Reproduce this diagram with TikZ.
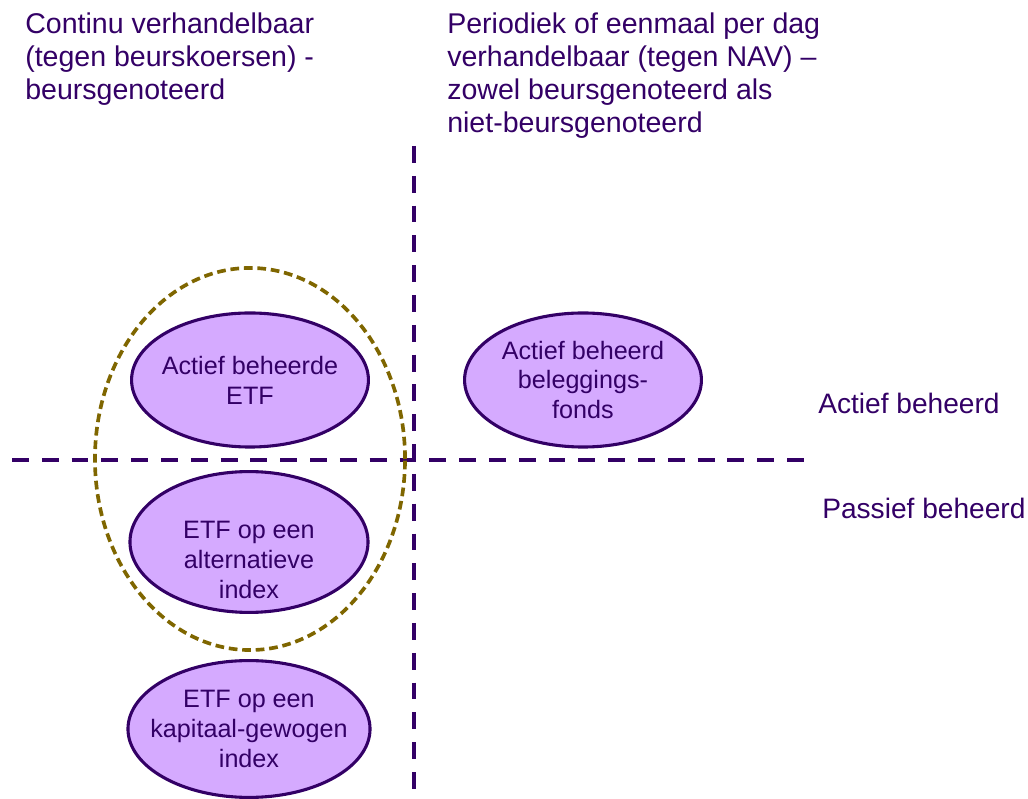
\documentclass[tikz,border=0pt]{standalone}
\usepackage{xcolor}
\usepackage{fontspec}
\setmainfont{Liberation Sans}
\usepackage{tikz}
\usetikzlibrary{shapes.geometric}

\definecolor{inkpurple}{HTML}{330066}
\definecolor{bubblefill}{HTML}{D5AAFF}
\definecolor{ringolive}{HTML}{7F6600}

\tikzset{
    bubble/.style={ellipse, draw=inkpurple, line width=2.2pt, fill=bubblefill, inner sep=0pt},
    bubbletext/.style={text=inkpurple, align=center, inner sep=0pt, font=\fontsize{17.9}{21.3}\selectfont},
    heading/.style={text=inkpurple, align=left, anchor=north west, inner sep=0pt, font=\fontsize{20.3}{23.4}\selectfont},
    sidelabel/.style={text=inkpurple, anchor=base west, inner sep=0pt, font=\fontsize{20}{24}\selectfont},
    divider/.style={draw=inkpurple, line width=2.8pt, dash pattern=on 12pt off 9.2pt},
    ring/.style={ellipse, draw=ringolive, line width=2.6pt, dash pattern=on 6.2pt off 3.4pt, inner sep=0pt},
}

\begin{document}
\begin{tikzpicture}[x=0.025cm, y=-0.025cm]
        \useasboundingbox (0,0) rectangle (1028,799);
        % column headings
        \node[heading] (colleft) at (25,13) {Continu verhandelbaar\\(tegen beurskoersen) -\\beursgenoteerd};
        \node[heading] (colright) at (447,13) {Periodiek of eenmaal per dag\\verhandelbaar (tegen NAV) --\\zowel beursgenoteerd als\\niet-beursgenoteerd};
        % row labels
        \node[sidelabel] (rowactive) at (818,414) {Actief beheerd};
        \node[sidelabel] (rowpassive) at (822,519) {Passief beheerd};
        % dividers
        \coordinate (hleft) at (12,460);
        \coordinate (hright) at (808,460);
        \coordinate (vtop) at (414,146);
        \coordinate (vbottom) at (414,799);
        \draw[divider] (hleft) -- (hright);
        \draw[divider] (vtop) -- (vbottom);
        % fund types
        \node[ring, minimum width=7.75cm, minimum height=9.55cm] (etfring) at (250,459) {};
        \node[bubble, minimum width=5.92cm, minimum height=3.35cm] (activeetf) at (250,380) {};
        \node[bubbletext] (activeetftext) at (activeetf.center) {Actief beheerde\\ETF};
        \node[bubble, minimum width=5.92cm, minimum height=3.35cm] (activefund) at (583,380) {};
        \node[bubbletext] (activefundtext) at (activefund.center) {Actief beheerd\\beleggings-\\fonds};
        \node[bubble, minimum width=5.95cm, minimum height=3.52cm] (altetf) at (249,542) {};
        \node[bubbletext] (altetftext) at (249,560) {ETF op een\\alternatieve\\index};
        \node[bubble, minimum width=6.05cm, minimum height=3.42cm] (capetf) at (249,729) {};
        \node[bubbletext] (capetftext) at (capetf.center) {ETF op een\\kapitaal-gewogen\\index};
    \end{tikzpicture}
\end{document}
